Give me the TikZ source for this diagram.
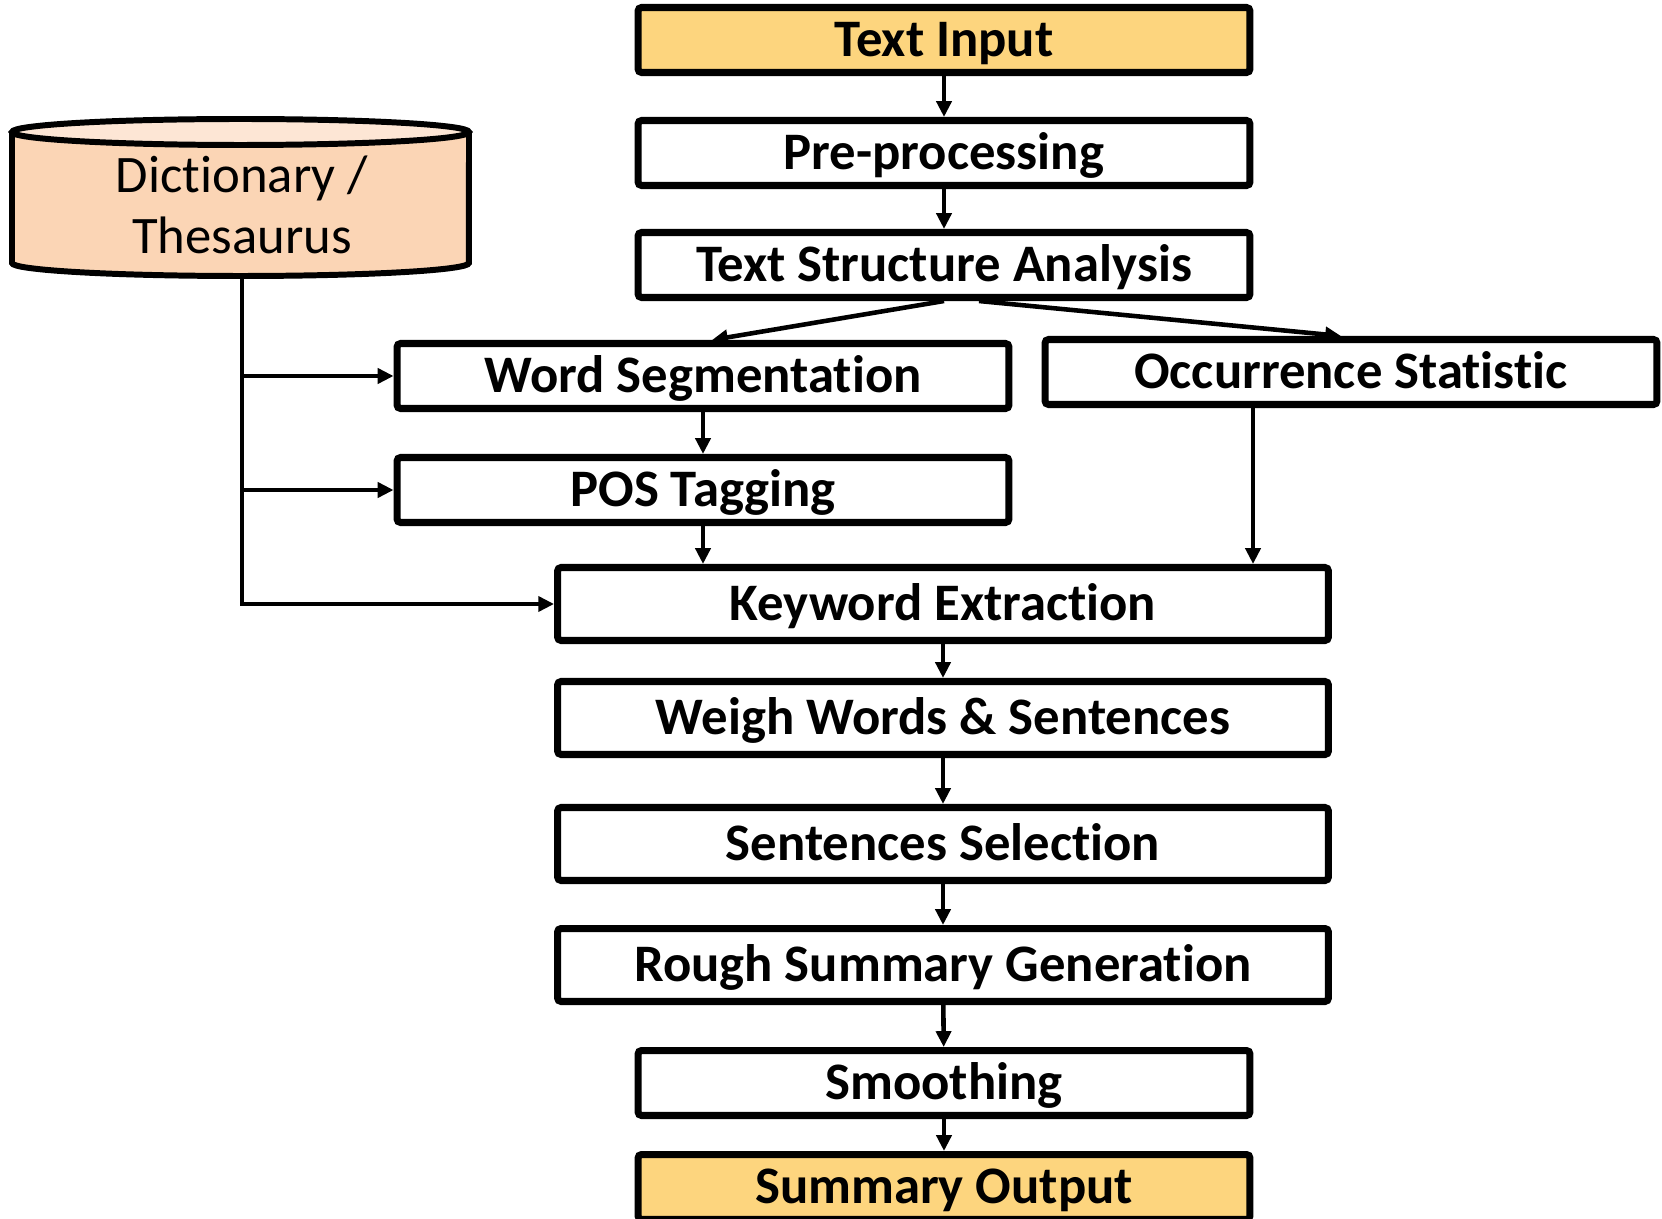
\documentclass[tikz,border=0pt]{standalone}
\usepackage{fontspec}
\setmainfont{Carlito}[Ligatures=NoCommon]
\usetikzlibrary{arrows.meta}

\definecolor{inout}{HTML}{FDD57E}
\definecolor{dictbody}{HTML}{FBD5B5}
\definecolor{dicttop}{HTML}{FDE6D5}

\begin{document}
\begin{tikzpicture}[
    x=0.02cm, y=-0.02cm,
    >={Triangle[length=9pt, width=8.5pt]},
    flow/.style={->, line width=2.6pt},
    stepbox/.style={draw, line width=4pt, rounded corners=2pt, fill=white, inner sep=0pt,
      font=\bfseries\fontsize{30}{36}\selectfont, text height=19.2pt, text depth=0pt,
      minimum width=12.24cm, minimum height=1.3cm},
    iobox/.style={stepbox, fill=inout},
    widebox/.style={stepbox, minimum width=15.42cm, minimum height=1.46cm}
  ]
  \useasboundingbox (0,0) rectangle (1662,1219);

  % Dizionario
  \draw[line width=3.4pt, fill=dictbody] (12,132) -- (12,263)
    arc[start angle=180, end angle=360, x radius=4.57cm, y radius=0.26cm] -- (469,132);
  \draw[line width=3.4pt, fill=dicttop] (240.5,132) ellipse [x radius=4.57cm, y radius=0.26cm];
  \node[align=center, font=\fontsize{30}{35}\selectfont] (dict) at (242,205) {Dictionary /\\Thesaurus};
  \coordinate (dictbot) at (242,276);

  % Blocchi
  \node[iobox]   (tin)    at (944,40)   {Text Input};
  \node[stepbox] (pre)    at (944,153)  {Pre-processing};
  \node[stepbox] (tsa)    at (944,265)  {Text Structure Analysis};
  \node[stepbox] (wseg)   at (703,376)  {Word Segmentation};
  \node[stepbox] (occ)    at (1351,372) {Occurrence Statistic};
  \node[stepbox] (pos)    at (703,490)  {POS Tagging};
  \node[widebox] (kw)     at (943,604)  {Keyword Extraction};
  \node[widebox] (wws)    at (943,718)  {Weigh Words \& Sentences};
  \node[widebox] (sel)    at (943,844)  {Sentences Selection};
  \node[widebox] (rough)  at (943,965)  {Rough Summary Generation};
  \node[stepbox] (smooth) at (944,1083) {Smoothing};
  \node[iobox]   (out)    at (944,1187) {Summary Output};

  % Frecce
  \draw[flow] (tin) -- (pre);
  \draw[flow] (pre) -- (tsa);
  \draw[flow] (tsa.south) -- ([xshift=0.18cm]wseg.north);
  \draw[flow] ([xshift=0.7cm]tsa.south) -- ([xshift=-0.2cm]occ.north);
  \draw[flow] (wseg) -- (pos);
  \draw[flow] (pos.south) -- (pos.south |- kw.north);
  \draw[flow] ([xshift=-1.96cm]occ.south) -- ([xshift=-1.96cm]occ.south |- kw.north);
  \draw[flow] (kw) -- (wws);
  \draw[flow] (wws) -- (sel);
  \draw[flow] (sel) -- (rough);
  \draw[flow] (rough) -- (smooth);
  \draw[flow] (smooth) -- (out);

  % Dizionario -> blocchi
  \draw[flow] (dictbot) |- (kw.west);
  \draw[flow] (dictbot |- wseg.west) -- (wseg.west);
  \draw[flow] (dictbot |- pos.west) -- (pos.west);

\end{tikzpicture}
\end{document}
